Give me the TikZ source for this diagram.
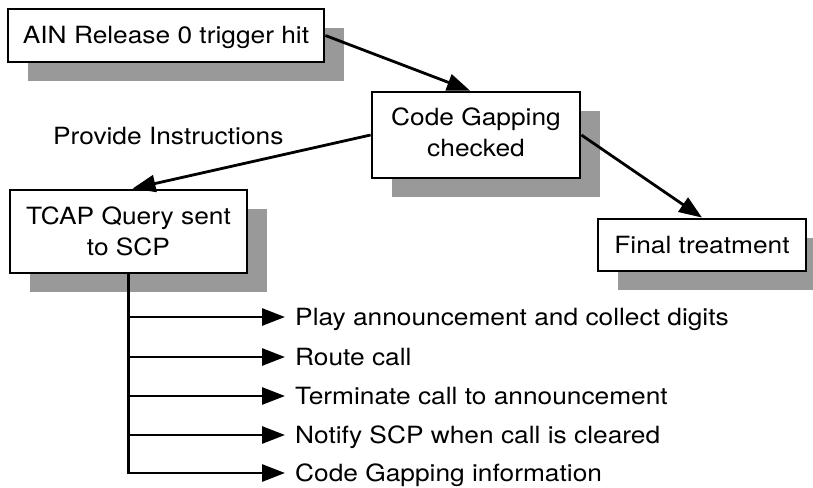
\documentclass[tikz,border=0pt]{standalone}
\usepackage{fontspec}
\setmainfont[FakeStretch=1.11]{TeX Gyre Heros}
\usetikzlibrary{arrows.meta,shadows}
\definecolor{shadowgray}{RGB}{153,153,153}
\begin{document}
\begin{tikzpicture}[x=1pt,y=-1pt,
  every node/.style={font=\fontsize{23.7pt}{30.5pt}\selectfont},
  box/.style={draw, line width=2.8pt, fill=white, align=center, inner sep=0pt,
    drop shadow={shadow xshift=20pt, shadow yshift=-19pt, fill=shadowgray, opacity=1}},
  oneline/.style={text height=16.9pt, text depth=0pt},
  link/.style={line width=2.8pt, -{Triangle[length=23pt,width=17pt]}},
  item/.style={anchor=west, inner sep=0pt, inner xsep=10pt, oneline}
]
\useasboundingbox (0,0) rectangle (813,487);

% process boxes
\node[box, oneline, minimum width=316pt, minimum height=53pt] (trigger) at (166,35.5) {AIN Release 0 trigger hit};
\node[box, minimum width=208pt, minimum height=86pt] (gap) at (476,135) {Code Gapping\\checked\rule[-6pt]{0pt}{6pt}};
\node[box, minimum width=237pt, minimum height=83pt] (tcap) at (128.5,231.5) {TCAP Query sent\\to SCP};
\node[box, oneline, minimum width=208pt, minimum height=52pt] (final) at (702,245) {Final treatment};

\node[anchor=west, inner sep=0pt, oneline] (provide) at (53,136) {Provide Instructions};

% flow between boxes
\draw[link] (trigger.east) -- ([xshift=-6pt]gap.north);
\draw[link] (gap.west) -- ([xshift=4pt]tcap.north);
\draw[link] (gap.east) -- (final.north);

% instructions returned by the SCP
\node[item] (i1) at (285,317) {Play announcement and collect digits};
\node[item] (i2) at (285,357) {Route call};
\node[item] (i3) at (285,396) {Terminate call to announcement};
\node[item] (i4) at (285,435) {Notify SCP when call is cleared};
\node[item] (i5) at (285,473) {Code Gapping information};

\foreach \i in {i1,i2,i3,i4,i5}
  \draw[link] (tcap.south) |- (\i.west);
\end{tikzpicture}
\end{document}
